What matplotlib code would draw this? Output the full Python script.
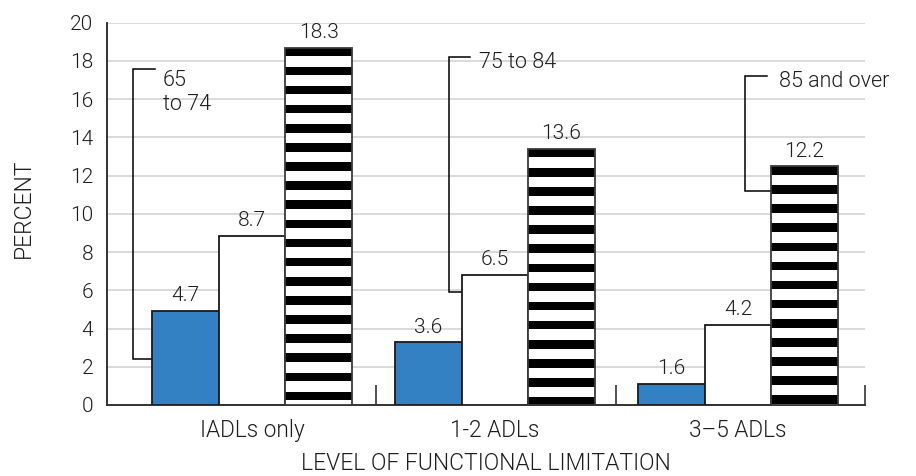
import numpy as np
import matplotlib
matplotlib.use("Agg")
import matplotlib.pyplot as plt

plt.rcParams['font.family'] = ['Roboto', 'DejaVu Sans']
plt.rcParams['font.weight'] = 300
plt.rcParams['axes.labelweight'] = 300

# ---- data ----
categories = ["IADLs only", "1-2 ADLs", "3\u20135 ADLs"]
age_groups = ["65\nto 74", "75 to 84", "85 and over"]
# printed values
labels_65_74 = [4.7, 3.6, 1.6]
labels_75_84 = [8.7, 6.5, 4.2]
labels_85_over = [18.3, 13.6, 12.2]
# bar heights as drawn in the picture
heights_65_74 = [4.94, 3.28, 1.10]
heights_75_84 = [8.85, 6.80, 4.19]
heights_85_over = [18.7, 13.4, 12.5]
y_ticks = list(range(0, 21, 2))
x_label = "LEVEL OF FUNCTIONAL LIMITATION"
y_label = "PERCENT"

# ---- style ----
BLUE = "#3380C2"
TEXT = "#1e1e1e"
FS = 15
FS_CAT = 16.3
FS_AX = 16.5
bar_w = 0.274
stripe_period = 1.0
stripe_black = 0.45
XLIM = (-0.597, 2.523)

fig = plt.figure(figsize=(9.16, 4.76), dpi=100)
ax = fig.add_axes([107/916, 1-405/476, (865-107)/916, (405-22.7)/476])

x = np.arange(len(categories))
offsets = [-bar_w, 0, bar_w]

# bars
b1 = ax.bar(x + offsets[0], heights_65_74, bar_w, color=BLUE, edgecolor="#1a1a1a", linewidth=1.3, zorder=3)
b2 = ax.bar(x + offsets[1], heights_75_84, bar_w, color="white", edgecolor="#1a1a1a", linewidth=1.3, zorder=3)
b3 = ax.bar(x + offsets[2], heights_85_over, bar_w, color="white", edgecolor="none", linewidth=0, zorder=3)
# horizontal stripes for the 85-and-over bars, derived from each bar height
for xi, h in zip(x + offsets[2], heights_85_over):
    tops = h - np.arange(0, h, stripe_period)
    bottoms = np.clip(tops - stripe_black, 0, None)
    ax.bar(np.full(len(tops), xi), tops - bottoms, bar_w, bottom=bottoms,
           color="black", edgecolor="none", zorder=4)
ax.bar(x + offsets[2], heights_85_over, bar_w, fill=False, edgecolor="#3a3a3a", linewidth=1.3, zorder=5)

# value labels
for bars, labs in [(b1, labels_65_74), (b2, labels_75_84), (b3, labels_85_over)]:
    for r, v in zip(bars, labs):
        ax.annotate(f"{v:.1f}", (r.get_x() + r.get_width()/2, r.get_height()),
                    xytext=(0, 4), textcoords="offset points", ha="center", va="bottom",
                    fontsize=FS, color=TEXT, zorder=6)

# series labels with bracket leaders: (bracket x, top y, bottom y, top tick end x, text x, text y)
brackets = [
    (-0.491, 17.59, 2.40, -0.399, -0.366, 16.35, b1[0]),
    (0.811, 18.22, 5.93, 0.897, 0.934, 17.90, b2[1]),
    (2.029, 17.20, 11.17, 2.119, 2.169, 16.90, b3[2]),
]
for (bx, ty, by, tx_end, tx, tyt, bar), name in zip(brackets, age_groups):
    ax.plot([tx_end, bx, bx, bar.get_x()], [ty, ty, by, by], color="black", lw=1.1,
            solid_joinstyle="miter", zorder=2)
    ax.text(tx, tyt, name, ha="left", va="center", fontsize=15.5, color=TEXT,
            linespacing=1.22, zorder=6)

# axes styling
ax.set_xlim(*XLIM)
ax.set_ylim(0, 20)
ax.set_yticks(y_ticks)
ax.set_xticks(x)
ax.set_xticklabels(categories)
ax.set_xticks([0.51, 1.5, XLIM[1]], minor=True)
ax.tick_params(axis="x", which="major", length=0, pad=10, labelsize=FS_CAT, labelcolor=TEXT)
ax.tick_params(axis="x", which="minor", direction="in", length=14.5, width=1.1, color="#222")
ax.tick_params(axis="y", length=0, pad=10, labelsize=FS, labelcolor=TEXT)
ax.grid(axis="y", color="#d3d3d3", lw=1.2)
ax.set_axisbelow(True)
for s in ["top", "right"]:
    ax.spines[s].set_visible(False)
for s in ["left", "bottom"]:
    ax.spines[s].set_color("#333333")
    ax.spines[s].set_linewidth(1.4)

ax.set_xlabel(x_label, fontsize=FS_AX, color=TEXT)
ax.set_ylabel(y_label, fontsize=FS_AX, color=TEXT)
ax.xaxis.set_label_coords(0.5, (405-463)/382, transform=ax.transAxes)
ax.yaxis.set_label_coords((23-107)/758, 0.5 + (214-208)/382)
ax.xaxis.label.set_va("center")
ax.yaxis.label.set_va("center")

fig.savefig("out.png", dpi=100)
